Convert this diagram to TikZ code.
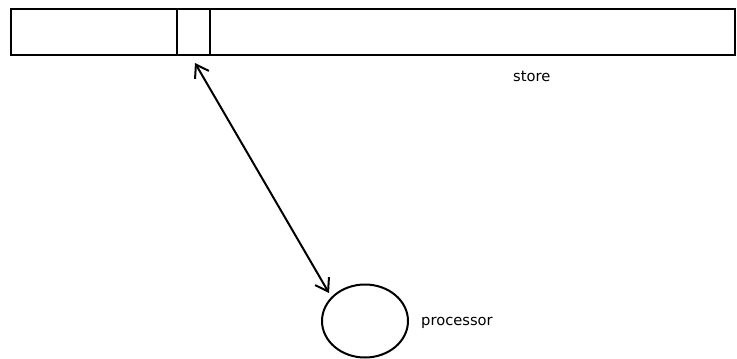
\documentclass[tikz,border=0pt]{standalone}
\usepackage{fontspec}
\setmainfont{DejaVu Sans}
\usetikzlibrary{arrows.meta,shapes.geometric}
\begin{document}
\begin{tikzpicture}[x=1pt,y=-1pt,
  line/.style={line width=2pt,black},
  tip/.tip={Straight Barb[length=12pt,width=16pt,line width=2pt]},
  lbl/.style={font=\fontsize{14.7}{17}\selectfont,inner sep=0pt,anchor=west}]
\useasboundingbox (0,0) rectangle (737,359);
\draw[line] (11,9) rectangle (735,55);
\node[draw,line width=2pt,minimum width=33pt,minimum height=46pt,inner sep=0pt] (cell) at (193.5,32) {};
\node[draw,ellipse,line width=2pt,minimum width=86pt,minimum height=73pt,inner sep=0pt] (proc) at (365,321) {};
\coordinate (a) at (195,63);
\coordinate (b) at (329,293);
\draw[line,tip-tip] (a) -- (b);
\node[lbl] (store) at (513,76) {store};
\node[lbl] (proclbl) at (421,323) {processor};
\end{tikzpicture}
\end{document}
